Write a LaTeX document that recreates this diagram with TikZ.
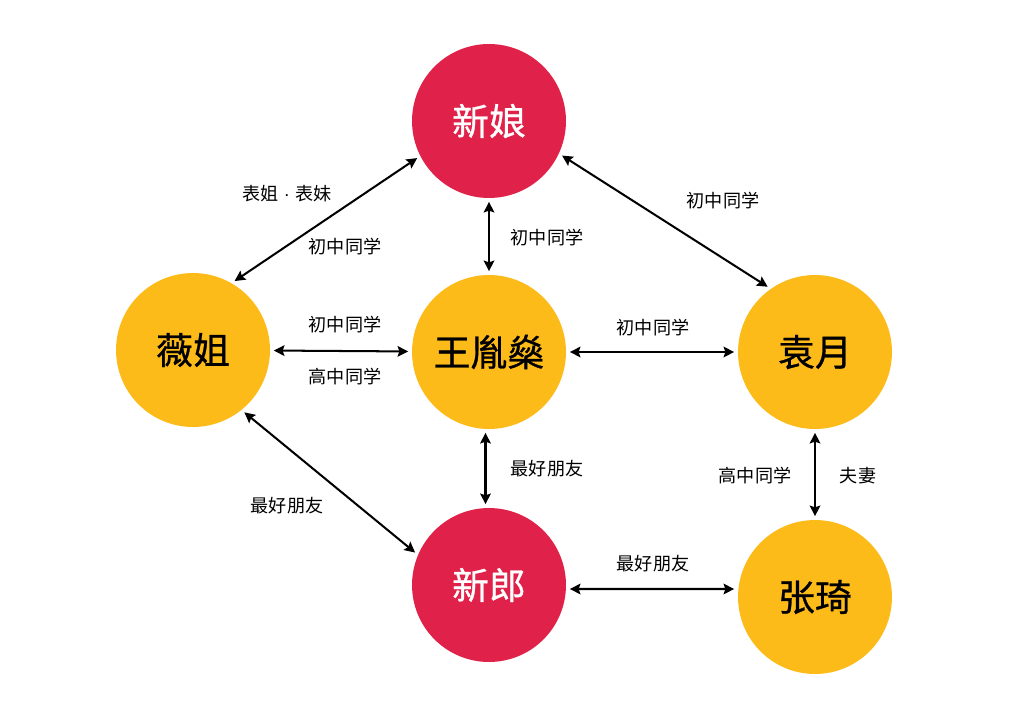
\documentclass[tikz,border=0pt]{standalone}
\usepackage{fontspec}
\setmainfont{Noto Sans CJK SC}
\newfontfamily\namefont[FakeBold=0.8]{Noto Sans CJK SC}
\newfontfamily\latinfont{Liberation Sans}
\usepackage{tikz}
\usetikzlibrary{arrows.meta}
\definecolor{bred}{HTML}{E0224A}
\definecolor{byel}{HTML}{FDBB1A}
\tikzset{
  person/.style={circle, minimum size=3.08cm, inner sep=0pt, font=\namefont\fontsize{21}{24}\selectfont},
  bride/.style={person, fill=bred, text=white},
  friend/.style={person, fill=byel, text=black},
  rel/.style={{Stealth[length=6pt,width=6pt,inset=1pt]}-{Stealth[length=6pt,width=6pt,inset=1pt]}, line width=1.15pt, shorten <=2pt, shorten >=2pt},
  lbl/.style={font=\fontsize{10.3}{12}\selectfont}
}

\begin{document}
\begin{tikzpicture}[x=0.02cm, y=-0.02cm]
\useasboundingbox (0,0) rectangle (1033,726);

%% vertices
\node[bride] (xinniang) at (489,121) {新娘};
\node[friend] (weijie) at (193,350) {薇姐};
\node[friend] (wang) at (489,352) {王胤燊};
\node[friend] (yuanyue) at (815,352) {袁月};
\node[bride] (xinlang) at (489,585) {新郎};
\node[friend] (zhangqi) at (815,597) {张琦};

%%% edges
\draw[rel] (xinniang.207) -- (weijie.60);
\draw[rel] (xinniang) -- (wang);
\draw[rel] (xinniang.-25) -- (yuanyue.125);
\draw[rel] (weijie) -- (wang);
\draw[rel] (wang) -- (yuanyue);
\draw[rel] (weijie.-51) -- (xinlang.157);
\draw[rel] ([xshift=-2pt]wang.south) -- ([xshift=-2pt]xinlang.north);
\draw[rel] (yuanyue) -- (zhangqi);
\draw[rel] ([yshift=-0.08cm]xinlang.east) -- ([yshift=0.16cm]zhangqi.west);

%%% labels
\node[lbl] (l1) at (287,194) {表姐{\latinfont\ · }表妹};
\node[lbl] (l2) at (345,247) {初中同学};
\node[lbl] (l3) at (547,238) {初中同学};
\node[lbl] (l4) at (723,201) {初中同学};
\node[lbl] (l5) at (345,325) {初中同学};
\node[lbl] (l6) at (345,377) {高中同学};
\node[lbl] (l7) at (653,328) {初中同学};
\node[lbl] (l8) at (547,469) {最好朋友};
\node[lbl] (l9) at (287,506) {最好朋友};
\node[lbl] (l10) at (755,476) {高中同学};
\node[lbl] (l11) at (858,476) {夫妻};
\node[lbl] (l12) at (653,564) {最好朋友};

\end{tikzpicture}
\end{document}
